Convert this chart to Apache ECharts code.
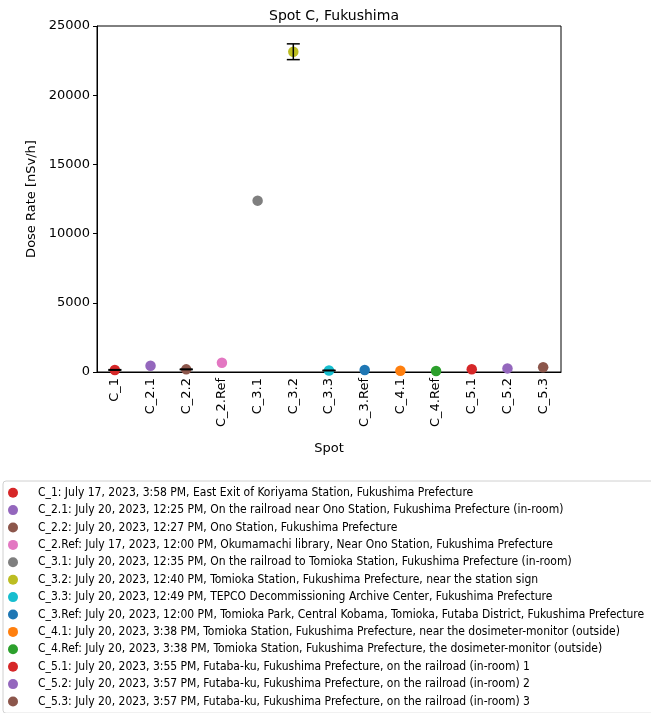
<!DOCTYPE html>
<html>
<head>
<meta charset="utf-8">
<script src="https://cdn.jsdelivr.net/npm/echarts@6/dist/echarts.min.js"></script>
<style>
  html, body { margin: 0; padding: 0; background: #fff; }
  #chart { width: 651px; height: 713px; }
</style>
</head>
<body>
<div id="chart"></div>
<script>
const spots = ['C_1', 'C_2.1', 'C_2.2', 'C_2.Ref', 'C_3.1', 'C_3.2', 'C_3.3', 'C_3.Ref', 'C_4.1', 'C_4.Ref', 'C_5.1', 'C_5.2', 'C_5.3']
const doseRates = [150, 455, 190, 670, 12380, 23140, 110, 150, 90, 70, 200, 260, 340]
const doseErrors = [20, 0, 20, 0, 0, 570, 20, 0, 0, 0, 0, 0, 0]
const descriptions = [
  'July 17, 2023, 3:58 PM, East Exit of Koriyama Station, Fukushima Prefecture',
  'July 20, 2023, 12:25 PM, On the railroad near Ono Station, Fukushima Prefecture (in-room)',
  'July 20, 2023, 12:27 PM, Ono Station, Fukushima Prefecture',
  'July 17, 2023, 12:00 PM, Okumamachi library, Near Ono Station, Fukushima Prefecture',
  'July 20, 2023, 12:35 PM, On the railroad to Tomioka Station, Fukushima Prefecture (in-room)',
  'July 20, 2023, 12:40 PM, Tomioka Station, Fukushima Prefecture, near the station sign',
  'July 20, 2023, 12:49 PM, TEPCO Decommissioning Archive Center, Fukushima Prefecture',
  'July 20, 2023, 12:00 PM, Tomioka Park, Central Kobama, Tomioka, Futaba District, Fukushima Prefecture',
  'July 20, 2023, 3:38 PM, Tomioka Station, Fukushima Prefecture, near the dosimeter-monitor (outside)',
  'July 20, 2023, 3:38 PM, Tomioka Station, Fukushima Prefecture, the dosimeter-monitor (outside)',
  'July 20, 2023, 3:55 PM, Futaba-ku, Fukushima Prefecture, on the railroad (in-room) 1',
  'July 20, 2023, 3:57 PM, Futaba-ku, Fukushima Prefecture, on the railroad (in-room) 2',
  'July 20, 2023, 3:57 PM, Futaba-ku, Fukushima Prefecture, on the railroad (in-room) 3'
]
const colors = ['#d62728', '#9467bd', '#8c564b', '#e377c2', '#7f7f7f', '#bcbd22', '#17becf', '#1f77b4', '#ff7f0e', '#2ca02c', '#d62728', '#9467bd', '#8c564b']
const yTicks = [0, 5000, 10000, 15000, 20000, 25000]

const font = 'DejaVu Sans'
const chart = echarts.init(document.getElementById('chart'))

const legendNames = spots.map((s, i) => `${s}: ${descriptions[i]}`)

// one scatter series per spot so the legend lists each one
const pointSeries = spots.map((s, i) => ({
  name: legendNames[i],
  type: 'scatter',
  data: [[s, doseRates[i]]],
  symbol: 'circle',
  symbolSize: 10.5,
  itemStyle: { color: colors[i], opacity: 1 },
  z: 2
}))

const errorData = spots
  .map((s, i) => [i, doseRates[i] - doseErrors[i], doseRates[i] + doseErrors[i]])
  .filter((d, i) => doseErrors[i] > 0)

const errorSeries = {
  type: 'custom',
  data: errorData,
  z: 3,
  renderItem: (params, api) => {
    const lo = api.coord([api.value(0), api.value(1)])
    const hi = api.coord([api.value(0), api.value(2)])
    const half = 6.5
    const style = { stroke: '#000', lineWidth: 1.5 }
    return {
      type: 'group',
      children: [
        { type: 'line', shape: { x1: lo[0], y1: lo[1], x2: hi[0], y2: hi[1] }, style },
        { type: 'line', shape: { x1: lo[0] - half, y1: lo[1], x2: lo[0] + half, y2: lo[1] }, style },
        { type: 'line', shape: { x1: hi[0] - half, y1: hi[1], x2: hi[0] + half, y2: hi[1] }, style }
      ]
    }
  }
}

chart.setOption({
  animation: false,
  textStyle: { fontFamily: font },
  title: {
    text: 'Spot C, Fukushima',
    left: 329,
    textAlign: 'center',
    top: 4,
    textStyle: { fontFamily: font, fontSize: 14, fontWeight: 'normal', color: '#000' }
  },
  grid: {
    left: 97, right: 90, top: 26, bottom: 341,
    show: true, borderColor: '#000', borderWidth: 1, backgroundColor: 'transparent'
  },
  legend: {
    data: legendNames,
    orient: 'vertical',
    left: 3,
    top: 481,
    height: 250,
    padding: [5, 30, 5, 5],
    itemWidth: 10,
    itemHeight: 10,
    itemGap: 4,
    icon: 'circle',
    borderColor: '#d0d0d0',
    borderWidth: 1,
    borderRadius: 3,
    selectedMode: false,
    textStyle: { fontFamily: 'DejaVu Sans Condensed', fontSize: 12, color: '#000', lineHeight: 13.4, padding: [0, 0, 0, 15] }
  },
  xAxis: {
    type: 'category',
    data: spots,
    boundaryGap: true,
    name: 'Spot',
    nameLocation: 'middle',
    nameGap: 70,
    nameTextStyle: { fontFamily: font, fontSize: 13, color: '#000' },
    axisLine: { lineStyle: { color: '#000', width: 1 } },
    axisTick: { alignWithLabel: true, length: 4, lineStyle: { color: '#000' } },
    axisLabel: { rotate: 90, color: '#000', fontFamily: font, fontSize: 13, margin: 6, interval: 0 },
    splitLine: { show: false }
  },
  yAxis: {
    type: 'value',
    min: yTicks[0],
    max: yTicks[yTicks.length - 1],
    interval: yTicks[1] - yTicks[0],
    name: 'Dose Rate [nSv/h]',
    nameLocation: 'middle',
    nameGap: 57,
    nameRotate: 90,
    nameTextStyle: { fontFamily: font, fontSize: 13, color: '#000' },
    axisLine: { show: true, lineStyle: { color: '#000', width: 1 } },
    axisTick: { show: true, length: 4, lineStyle: { color: '#000' } },
    axisLabel: { color: '#000', fontFamily: font, fontSize: 13, margin: 7, formatter: v => String(v) },
    splitLine: { show: false }
  },
  series: [...pointSeries, errorSeries]
})
</script>
</body>
</html>
